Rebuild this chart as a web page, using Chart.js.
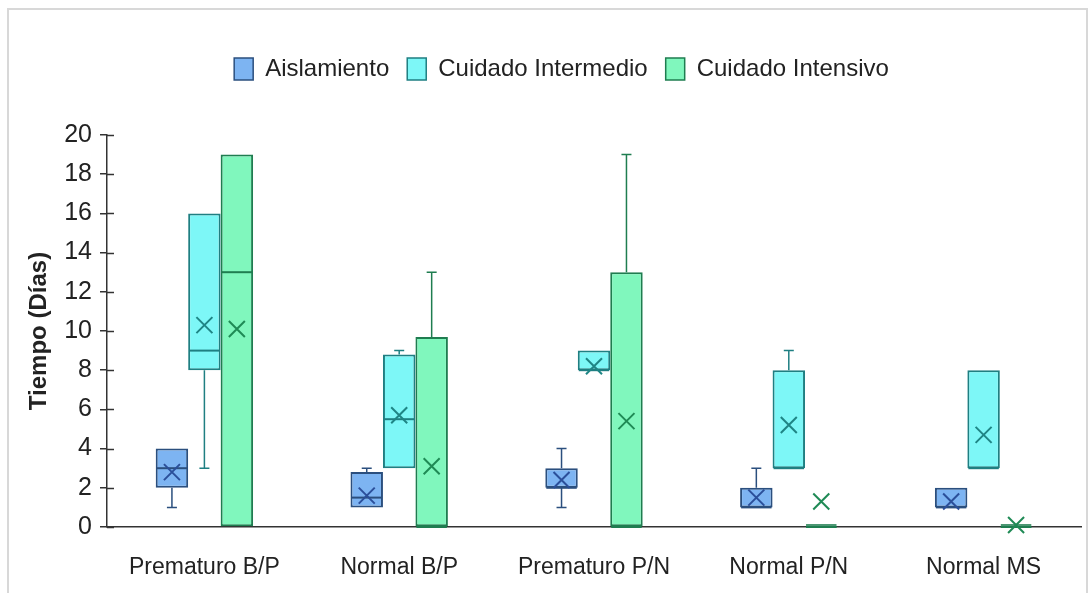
<!DOCTYPE html>
<html>
<head>
<meta charset="utf-8">
<script src="https://cdn.jsdelivr.net/npm/chart.js@4.4.1/dist/chart.umd.min.js"></script>
<style>
html,body{margin:0;padding:0;background:#fff;}
#wrap{position:relative;width:1089px;height:593px;}
</style>
</head>
<body>
<div id="wrap"><canvas id="c" width="1089" height="593"></canvas></div>
<script>
// ---- data ----
const categories = ['Prematuro B/P', 'Normal B/P', 'Prematuro P/N', 'Normal P/N', 'Normal MS'];
const seriesNames = ['Aislamiento', 'Cuidado Intermedio', 'Cuidado Intensivo'];

const aisMin  = [1, 1, 1, 1, 1];
const aisQ1   = [2, 1, 2, 1, 1];
const aisMed  = [3, 1.5, 2, 1, 1];
const aisQ3   = [4, 2.8, 3, 2, 2];
const aisMax  = [4, 3, 4, 3, 2];
const aisMean = [2.8, 1.6, 2.4, 1.5, 1.3];

const ciMin  = [3, 3, 8, 3, 3];
const ciQ1   = [8, 3, 8, 3, 3];
const ciMed  = [9, 5.5, 8, 3, 3];
const ciQ3   = [16, 8.8, 9, 8, 8];
const ciMax  = [16, 9, 9, 9, 8];
const ciMean = [10.3, 5.7, 8.2, 5.2, 4.7];

const intMin  = [0, 0, 0, 0, 0];
const intQ1   = [0, 0, 0, 0, 0];
const intMed  = [13, 0, 0, 0, 0];
const intQ3   = [19, 9.7, 13, 0, 0];
const intMax  = [19, 13, 19, 0, 0];
const intMean = [10.1, 3.1, 5.4, 1.3, 0.1];

const yTicks = [0, 2, 4, 6, 8, 10, 12, 14, 16, 18, 20];

const fills   = ['#7db4f2', '#7df7f7', '#80f7bd'];
const borders = ['#2b4f7e', '#1f7f82', '#1f7d50'];
const markers = ['#2b4f9a', '#1f8585', '#1f8a55'];

const stats = [
  {min: aisMin, q1: aisQ1, med: aisMed, q3: aisQ3, max: aisMax, mean: aisMean},
  {min: ciMin,  q1: ciQ1,  med: ciMed,  q3: ciQ3,  max: ciMax,  mean: ciMean},
  {min: intMin, q1: intQ1, med: intMed, q3: intQ3, max: intMax, mean: intMean}
];

const FONT = '"Liberation Sans", Arial, sans-serif';
const TXT = '#222';

const boxPlotPlugin = {
  id: 'boxExtras',
  beforeInit(chart) {
    const lg = chart.legend;
    if (lg) {
      const orig = lg.fit.bind(lg);
      lg.fit = function () { orig(); this.height = 96; };
    }
  },
  beforeDraw(chart) {
    const ctx = chart.ctx;
    ctx.save();
    ctx.fillStyle = '#fff';
    ctx.fillRect(0, 0, chart.width, chart.height);
    ctx.strokeStyle = '#d8d8d8';
    ctx.lineWidth = 2;
    ctx.strokeRect(8, 9, 1079, 620);
    ctx.restore();
  },
  afterDatasetsDraw(chart) {
    const ctx = chart.ctx;
    const y = chart.scales.y;
    ctx.save();
    stats.forEach((s, di) => {
      const meta = chart.getDatasetMeta(di);
      meta.data.forEach((el, i) => {
        const x = el.x, w = el.width, half = w / 2;
        const pq1 = y.getPixelForValue(s.q1[i]);
        const pq3 = y.getPixelForValue(s.q3[i]);
        ctx.strokeStyle = borders[di];
        ctx.lineCap = 'butt';
        // whiskers
        ctx.lineWidth = 1.5;
        if (s.max[i] > s.q3[i]) {
          const pm = y.getPixelForValue(s.max[i]);
          ctx.beginPath();
          ctx.moveTo(x, pq3); ctx.lineTo(x, pm);
          ctx.moveTo(x - 5, pm); ctx.lineTo(x + 5, pm);
          ctx.stroke();
        }
        if (s.min[i] < s.q1[i]) {
          const pm = y.getPixelForValue(s.min[i]);
          ctx.beginPath();
          ctx.moveTo(x, pq1); ctx.lineTo(x, pm);
          ctx.moveTo(x - 5, pm); ctx.lineTo(x + 5, pm);
          ctx.stroke();
        }
        // flat box
        if (Math.abs(pq1 - pq3) < 1) {
          ctx.lineWidth = 4;
          ctx.globalAlpha = 0.8;
          ctx.beginPath();
          ctx.moveTo(x - half + 1, pq1 - 1); ctx.lineTo(x + half - 1, pq1 - 1);
          ctx.stroke();
          ctx.globalAlpha = 1;
        }
        // median
        const pmed = y.getPixelForValue(s.med[i]);
        ctx.lineWidth = 2;
        ctx.beginPath();
        ctx.moveTo(x - half + 1, pmed); ctx.lineTo(x + half - 1, pmed);
        ctx.stroke();
        // mean X
        const pmean = y.getPixelForValue(s.mean[i]);
        const r = 8;
        ctx.strokeStyle = markers[di];
        ctx.lineWidth = 2;
        ctx.beginPath();
        ctx.moveTo(x - r, pmean - r); ctx.lineTo(x + r, pmean + r);
        ctx.moveTo(x + r, pmean - r); ctx.lineTo(x - r, pmean + r);
        ctx.stroke();
      });
    });
    // inner halves of y tick marks
    const ca = chart.chartArea;
    ctx.strokeStyle = '#333';
    ctx.lineWidth = 1.5;
    yTicks.forEach(v => {
      const py = Math.round(y.getPixelForValue(v)) + 0.5;
      ctx.beginPath();
      ctx.moveTo(ca.left, py); ctx.lineTo(ca.left + 7, py);
      ctx.stroke();
    });
    ctx.restore();
  },
  afterLayout(chart) {
    const lg = chart.legend;
    if (lg) { lg.left += 21; lg.right += 21; }
  }
};

const datasets = seriesNames.map((name, di) => ({
  label: name,
  data: categories.map((c, i) => [stats[di].q1[i], stats[di].q3[i]]),
  backgroundColor: fills[di],
  borderColor: borders[di],
  borderWidth: 2,
  borderSkipped: false,
  categoryPercentage: 0.5,
  barPercentage: 1.0
}));

new Chart(document.getElementById('c'), {
  type: 'bar',
  data: { labels: categories, datasets },
  plugins: [boxPlotPlugin],
  options: {
    responsive: false,
    animation: false,
    devicePixelRatio: 1,
    layout: { padding: { left: 0, right: 8, top: 39, bottom: 0 } },
    plugins: {
      tooltip: { enabled: false },
      legend: {
        position: 'top',
        labels: {
          boxWidth: 19,
          boxHeight: 22,
          padding: 18,
          color: TXT,
          font: { family: FONT, size: 24 },
          generateLabels(chart) {
            return seriesNames.map((n, i) => ({
              text: n, fillStyle: fills[i], strokeStyle: borders[i], lineWidth: 1.5,
              hidden: false, datasetIndex: i, fontColor: TXT
            }));
          }
        }
      }
    },
    scales: {
      x: {
        grid: { display: false, drawTicks: false },
        border: { display: true, color: '#333', width: 1.5 },
        ticks: { color: TXT, font: { family: FONT, size: 23 }, padding: 27, maxRotation: 0 },
        afterFit(s) { s.height = 66; }
      },
      y: {
        min: 0, max: 20,
        afterBuildTicks(s) { s.ticks = yTicks.map(v => ({ value: v })); },
        grid: { drawOnChartArea: false, drawTicks: true, tickLength: 7, color: '#333', lineWidth: 1.5 },
        border: { display: true, color: '#333', width: 1.5 },
        ticks: { color: TXT, font: { family: FONT, size: 25 }, padding: 8 },
        title: {
          display: true, text: 'Tiempo (Días)', color: TXT,
          font: { family: FONT, size: 24, weight: 'bold' },
          padding: { top: 25, bottom: 0 }
        },
        afterFit(s) { s.width = 107; }
      }
    }
  }
});
</script>
</body>
</html>
